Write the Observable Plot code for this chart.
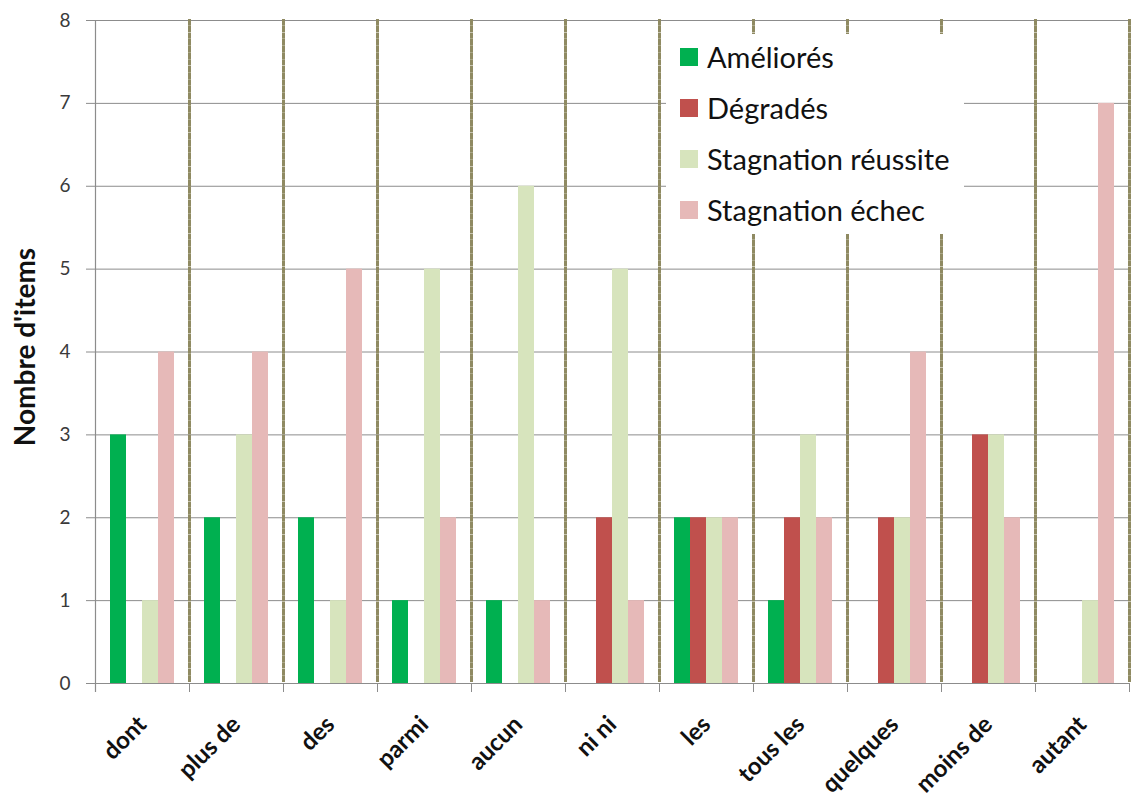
<!DOCTYPE html>
<html>
<head>
<meta charset="utf-8">
<script src="https://cdn.jsdelivr.net/npm/d3@7"></script>
<script src="https://cdn.jsdelivr.net/npm/@observablehq/plot@0.6"></script>
<style>
  html, body { margin: 0; padding: 0; background: #fff; }
  #wrap { position: relative; width: 1135px; height: 803px; overflow: hidden; font-family: Lato, "Open Sans", sans-serif; }
  #ytitle { position: absolute; left: 24px; top: 347px; transform: translate(-50%, -50%) rotate(-90deg); font-weight: bold; font-size: 28px; color: #111; white-space: nowrap; }
  #legend { position: absolute; left: 666px; top: 34px; width: 298px; height: 200px; background: #fff; }
  .item { position: absolute; left: 14px; display: flex; align-items: center; font-size: 29px; line-height: 34px; color: #111; white-space: nowrap; }
  .sw { width: 18px; height: 18px; margin-right: 9px; }
</style>
</head>
<body>
<div id="wrap">
  <div id="chart"></div>
  <div id="ytitle">Nombre d'items</div>
  <div id="legend"></div>
</div>
<script>
const categories = ["dont", "plus de", "des", "parmi", "aucun", "ni ni", "les", "tous les", "quelques", "moins de", "autant"];
const series = ["Améliorés", "Dégradés", "Stagnation réussite", "Stagnation échec"];
const colors = ["#00b050", "#c0504d", "#d7e4bd", "#e6b9b8"];
const ameliores          = [3, 2, 2, 1, 1, 0, 2, 1, 0, 0, 0];
const degrades           = [0, 0, 0, 0, 0, 2, 2, 2, 2, 3, 0];
const stagnationReussite = [1, 3, 1, 5, 6, 5, 2, 3, 2, 3, 1];
const stagnationEchec    = [4, 4, 5, 2, 1, 1, 2, 2, 4, 2, 7];
const yTicks = [0, 1, 2, 3, 4, 5, 6, 7, 8];

const values = [ameliores, degrades, stagnationReussite, stagnationEchec];
const data = [];
categories.forEach((c, i) => series.forEach((s, j) => data.push({cat: c, series: s, value: values[j][i]})));

const W = 1135, H = 803, mt = 20, mb = 120, ml = 92, mr = 4;
const plotH = H - mt - mb;
const grid = "#8c8c8c";
const sepColor = "#8f8a62";

const chart = Plot.plot({
  width: W, height: H,
  marginTop: mt, marginBottom: mb, marginLeft: ml, marginRight: mr,
  style: {fontFamily: "Lato, 'Open Sans', sans-serif", background: "#fff"},
  fx: {domain: categories, paddingInner: 0, paddingOuter: 0, label: null},
  x: {domain: series, paddingInner: 0, paddingOuter: 0.78, axis: null},
  y: {domain: [0, 8], label: null},
  color: {domain: series, range: colors},
  marks: [
    Plot.gridY(yTicks, {stroke: grid, strokeOpacity: 1, strokeWidth: 1}),
    Plot.frame({anchor: "right", stroke: sepColor, strokeWidth: 3}),
    Plot.barY(data, {fx: "cat", x: "series", y: "value", fill: "series", inset: 0}),
    Plot.ruleY([0], {stroke: grid, strokeWidth: 1.2}),
    Plot.frame({anchor: "right", stroke: grid, insetTop: plotH, insetBottom: -8}),
    Plot.frame({anchor: "left", stroke: grid, strokeWidth: 1.2, insetBottom: -8, fx: () => categories[0]}),
    Plot.axisY(yTicks, {tickSize: 9, tickPadding: 16, fontSize: 19, fill: "#3a3a3a", stroke: grid, tickFormat: "d", label: null}),
    Plot.axisFx({anchor: "bottom", tickRotate: -45, tickSize: 0, tickPadding: 37, fontSize: 24, fontWeight: "bold", fill: "#111", label: null})
  ]
});
// make the group separators dotted
d3.select(chart).selectAll(`[stroke="${sepColor}"]`).each(function () {
  d3.select(this).attr("stroke-dasharray", "3.4,3.3");
  d3.select(this).selectAll("*").attr("stroke-dasharray", "3.4,3.3");
});
document.getElementById("chart").appendChild(chart);

const legend = document.getElementById("legend");
const rowY = [23, 74, 125, 176];
series.forEach((s, i) => {
  const d = document.createElement("div");
  d.className = "item";
  d.style.top = (rowY[i] - 17) + "px";
  d.innerHTML = `<span class="sw" style="background:${colors[i]}"></span><span>${s}</span>`;
  legend.appendChild(d);
});
</script>
</body>
</html>
